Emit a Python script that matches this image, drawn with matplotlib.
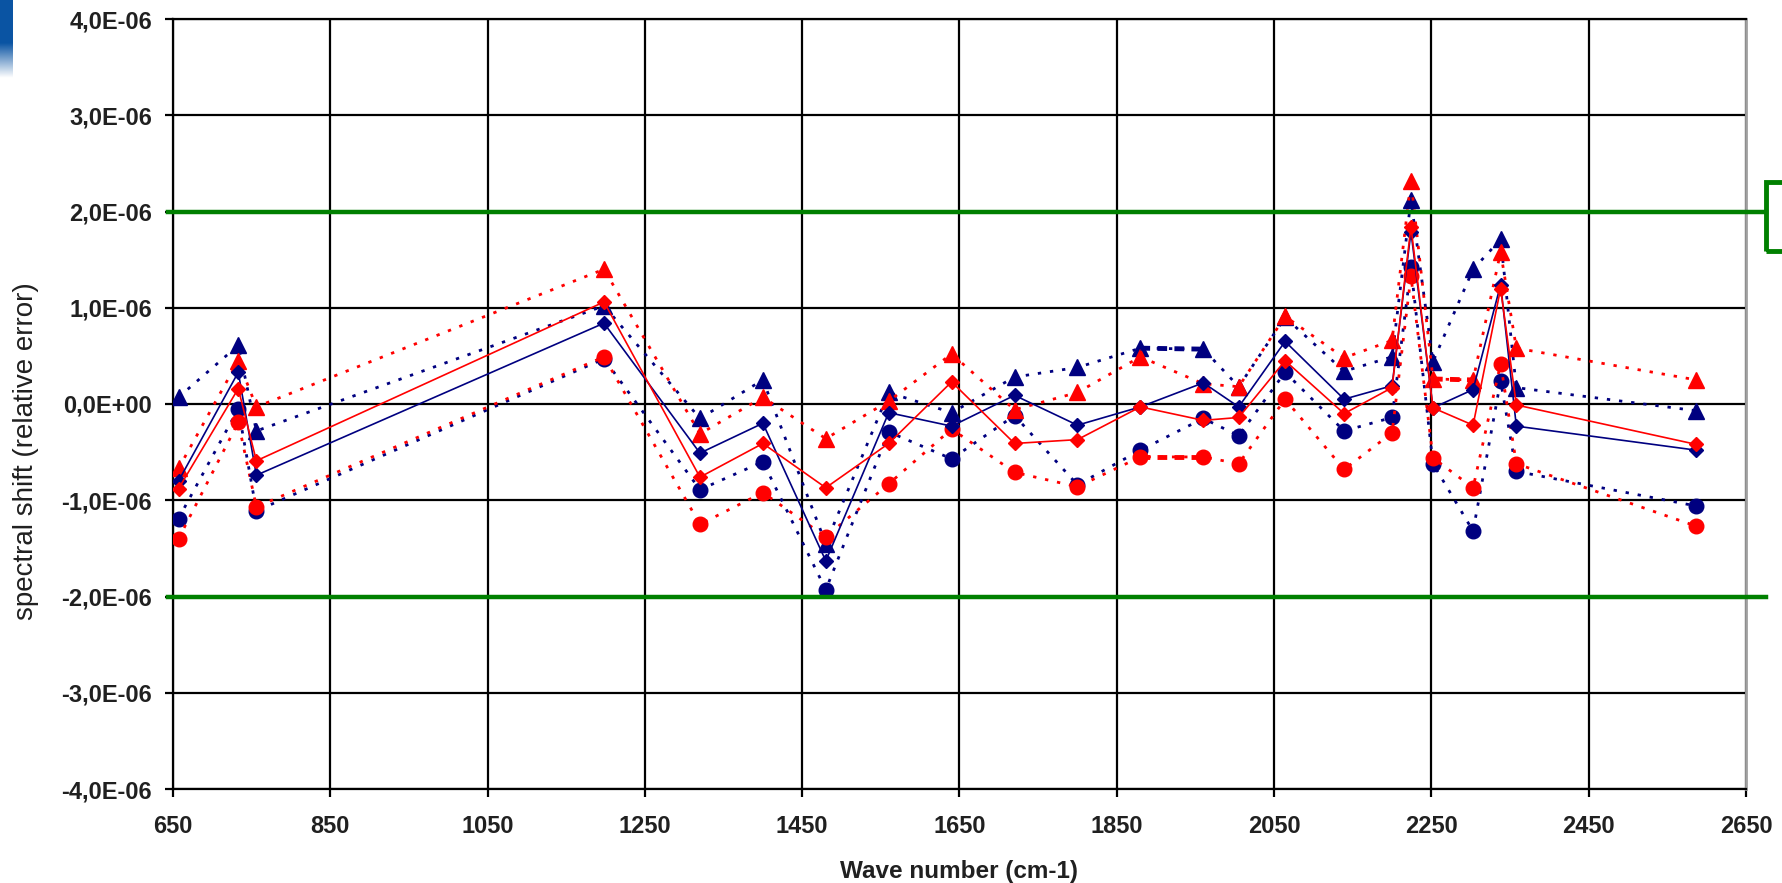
import numpy as np
import matplotlib
matplotlib.use('Agg')
import matplotlib.pyplot as plt
from matplotlib import transforms
from matplotlib.lines import Line2D
from matplotlib.patches import Rectangle
from matplotlib.ticker import FuncFormatter

# Wave numbers (cm-1)
wave = [657, 733, 756, 1198, 1320, 1400, 1480, 1560, 1640, 1720, 1800, 1880,
        1960, 2005, 2064, 2139, 2200, 2224, 2252, 2303, 2338, 2358, 2587]

# Spectral shift values, in units of 1E-06
blue_mean = [-0.80, 0.33, -0.74, 0.84, -0.51, -0.20, -1.63, -0.09, -0.23, 0.09, -0.22, -0.03,
             0.22, -0.03, 0.65, 0.05, 0.19, 1.79, -0.04, 0.15, 1.24, -0.23, -0.48]
red_mean = [-0.88, 0.16, -0.59, 1.06, -0.76, -0.41, -0.87, -0.41, 0.23, -0.41, -0.37, -0.03,
            -0.17, -0.14, 0.45, -0.10, 0.17, 1.84, -0.04, -0.22, 1.20, -0.01, -0.42]
blue_max = [0.07, 0.61, -0.28, 1.02, -0.15, 0.25, -1.45, 0.12, -0.09, 0.28, 0.38, 0.58,
            0.57, 0.18, 0.90, 0.34, 0.49, 2.12, 0.44, 1.40, 1.71, 0.17, -0.07]
red_max = [-0.67, 0.45, -0.03, 1.40, -0.31, 0.07, -0.36, 0.03, 0.52, -0.06, 0.12, 0.49,
           0.21, 0.18, 0.91, 0.48, 0.66, 2.32, 0.26, 0.25, 1.58, 0.58, 0.25]
blue_min = [-1.19, -0.05, -1.11, 0.47, -0.89, -0.60, -1.93, -0.29, -0.57, -0.12, -0.84, -0.48,
            -0.15, -0.33, 0.33, -0.28, -0.14, 1.42, -0.62, -1.32, 0.24, -0.70, -1.06]
red_min = [-1.40, -0.19, -1.07, 0.49, -1.25, -0.92, -1.38, -0.83, -0.26, -0.71, -0.86, -0.55,
           -0.55, -0.62, 0.05, -0.68, -0.30, 1.33, -0.56, -0.87, 0.42, -0.62, -1.27]

x_ticks = np.arange(650, 2651, 200)
y_ticks = np.arange(-4, 4.1, 1) * 1e-6

navy = '#000080'
red = '#ff0000'
green = '#008000'
dots = (0, (1.2, 3.2))

fig = plt.figure(figsize=(17.83, 8.83), dpi=100)
ax = fig.add_axes([173 / 1783, 1 - 789 / 883, 1573 / 1783, 770 / 883])

w = np.array(wave)
to_si = lambda v: np.array(v) * 1e-6

# Dotted envelope series (triangles = max, circles = min)
ax.plot(w, to_si(blue_max), color=navy, ls=dots, lw=2, marker='^', ms=11, zorder=3)
ax.plot(w, to_si(blue_min), color=navy, ls=dots, lw=2, marker='o', ms=10.5, zorder=3)
ax.plot(w, to_si(red_max), color=red, ls=dots, lw=2, marker='^', ms=11, zorder=3)
ax.plot(w, to_si(red_min), color=red, ls=dots, lw=2, marker='o', ms=10.5, zorder=3)

# A few segments are drawn with a heavier dash in the original
ax.plot(w[11:13], to_si(blue_max[11:13]), color=navy, ls=(0, (2, 1.5)), lw=3.5, zorder=3)
ax.plot(w[11:13], to_si(red_min[11:13]), color=red, ls=(0, (2, 1.5)), lw=3.5, zorder=3)
ax.plot(w[18:20], to_si(red_max[18:20]), color=red, ls=(0, (2, 1.5)), lw=3.5, zorder=3)

# Solid mean series (diamonds)
ax.plot(w, to_si(blue_mean), color=navy, ls='-', lw=1.2, marker='D', ms=7, zorder=4)
ax.plot(w, to_si(red_mean), color=red, ls='-', lw=1.2, marker='D', ms=7, zorder=4)

# Axes limits, grid and ticks
ax.set_xlim(650, 2650)
ax.set_ylim(-4e-6, 4e-6)
ax.set_xticks(x_ticks)
ax.set_yticks(y_ticks)
ax.yaxis.set_major_formatter(FuncFormatter(
    lambda v, p: ('%.1fE%s' % (v / 1e-6, '+00' if abs(v) < 1e-12 else '-06')).replace('.', ',')))
ax.grid(True, color='black', lw=1.6)
ax.set_axisbelow(True)
ax.tick_params(axis='both', direction='out', length=6, width=1.6, color='black',
               labelsize=17, labelcolor='#202020')
ax.tick_params(axis='x', pad=13)
ax.tick_params(axis='y', pad=9)
for lbl in ax.get_xticklabels() + ax.get_yticklabels():
    lbl.set_fontweight('bold')
    lbl.set_family('Liberation Sans')
for side in ['left', 'top', 'bottom']:
    ax.spines[side].set_color('black')
    ax.spines[side].set_linewidth(1.6)
ax.spines['right'].set_color('#a0a0a0')
ax.spines['right'].set_linewidth(2)

ax.set_xlabel('Wave number (cm-1)', fontsize=17.5, fontweight='bold', family='Liberation Sans',
              color='#202020')
ax.xaxis.set_label_coords(0.5, -0.092)
ax.set_ylabel('spectral shift (relative error)', fontsize=20, family='Liberation Sans',
              color='#202020')
ax.yaxis.set_label_coords(-0.085, 0.439)

# Green tolerance lines at +/- 2E-06, running past the plot area
trans = transforms.blended_transform_factory(fig.transFigure, ax.transData)
for lim in [2e-6, -2e-6]:
    fig.add_artist(Line2D([168 / 1783, 1766 / 1783], [lim, lim], transform=trans,
                          color=green, lw=3.2, zorder=5))

# Green box cut off at the right edge
fig.add_artist(Rectangle((1766 / 1783, 1 - 251 / 883), 40 / 1783, 69 / 883,
                         transform=fig.transFigure, fill=False, edgecolor=green, lw=3.5))

# Blue gradient strip in the top-left corner
strip = fig.add_axes([0, 1 - 78 / 883, 13 / 1783, 78 / 883])
fade = np.clip((np.linspace(0, 1, 100) - 0.55) / 0.45, 0, 1)
top = np.array([0.04, 0.33, 0.64])
img = top[None, :] * (1 - fade[:, None]) + fade[:, None]
strip.imshow(img[:, None, :], aspect='auto')
strip.axis('off')

fig.savefig('out.png', dpi=100)
